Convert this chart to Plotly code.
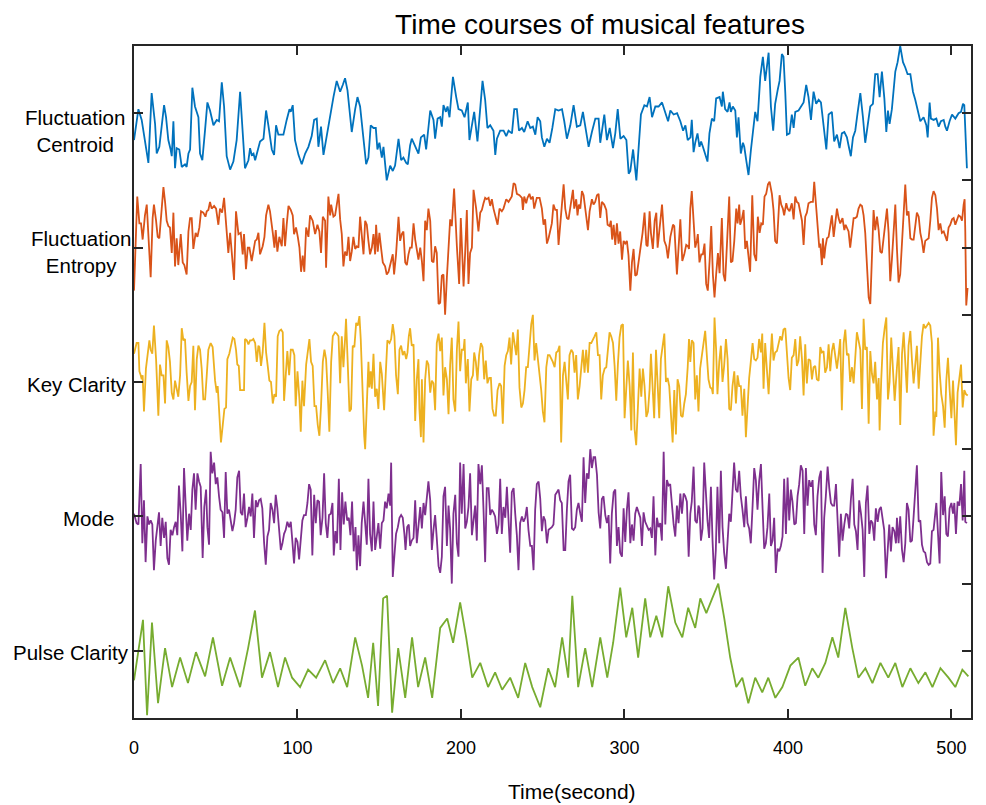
import plotly.graph_objects as go

# ---------------- data (time in s, amplitude in % of lane spacing) ----------------
centroid = [(0,-20),(2.7,3),(4.7,-5),(6.7,-20),(8.8,-37),(10.8,15),(12.9,-8),(13.9,-30),(15.5,-25),(16.9,-10),
(18.4,6),(19.6,-3),(21.0,-20),(22.4,-27),(23.1,-32),(24.1,-6),(25.1,-41),(26.1,-26),(27.7,-27),(29.2,-40),
(31.2,-38),(32.2,-40),(33.3,-30),(34.3,-27),(35.7,19),(37.3,5),(39.4,-3),(40.4,-30),(41.8,-35),(43.5,-12),
(44.9,8),(46.5,2),(48.6,-9),(50.6,-5),(52.0,-6),(53.7,23),(55.1,5),(56.7,-32),(58.8,-42),(60.8,-36),
(62.8,-20),(64.9,16),(66.3,-12),(67.9,-41),(70.0,-35),(71.0,-26),(72.0,-31),(73.1,-30),(74.1,-35),(75.1,-30),
(77.1,-21),(79.2,-19),(80.8,2),(82.2,-9),(84.3,-27),(85.7,-31),(86.9,-9),(88.3,-16),(91.4,-16),(93.4,-5),
(95.1,3),(95.9,1),(97.1,6),(98.5,-20),(100.6,-31),(102.6,-38),(104.7,-30),(106.7,-25),(108.7,-17),(110.2,-5),
(111.8,-4),(112.8,-25),(114.4,-10),(115.9,-31),(117.9,-17),(119.5,-3),(122,12),(124,24),(126.1,16),(127.7,21),
(129.1,26),(130.6,17),(132.2,-5),(133.2,-14),(135.3,3),(136.7,12),(138.3,5),(140.4,-20),(142,-38),(143.4,-33),
(144.8,-9),(146.5,-11),(147.9,-11),(148.9,-27),(150.1,-22),(151.6,-33),(152.6,-25),(154.6,-50),(156.7,-39),(158.3,-43),
(159.7,-39),(161.8,-19),(163.4,-35),(164.8,-33),(166.5,-37),(167.5,-38),(168.9,-24),
(169.9,-19),(172,-25),(174,-30),(175.5,-18),(177.5,-16),(178.7,-27),(181.2,2),(183.2,-5),(184.2,-19),(185.7,-4),
(187.3,-3),(188.3,-10),(189.3,6),(190.8,1),(191.8,5),(193,-3),(195.1,27),(197.1,12),(198.5,3),(200.5,2),
(202.2,-3),(204.2,8),(205.2,-20),(206.7,-9),(208.1,1),(210.1,-21),(213.2,24),(214.8,10),(216.2,-11),(217.9,-9),
(219.9,-13),(221,-31),(222,-19),(224,-13),(226.1,-13),(227.7,-17),(229.1,-13),(231.2,-15),(232.6,3),(234.2,3),
(235.5,-13),(237.3,-11),(238.7,-14),(240.8,-6),(242.4,-11),(244,-10),(245.5,-16),(246.9,-3),(248.5,-6),(249.5,-18),
(251,-25),(252.6,-19),(254.2,-22),(255.9,-11),(257.7,3),(259.7,2),(261.8,3),(263.2,-6),(264.8,-19),(266.9,-9),
(268.9,6),(270.9,-10),(273,-9),(274.6,1),(276,-11),(278.1,-25),(280.1,-14),(282.2,-4),(284.2,-4),(285.2,-22),
(287.7,-1),(289.3,-20),(291,-11),(293,-26),(294.4,-15),(295.9,3),(297.5,-19),(299.5,-17),(301.2,-20),(302.6,-45),
(303.6,-43),(305.3,-27),(307.3,-50),(310.1,-1),(312.2,6),(313.8,5),(315.4,12),(316.9,-3),(318.9,5),(320.9,5),
(323,8),(325,1),(326.7,-6),(328.1,2),(330.1,-1),(332.2,0),(334.2,-6),(335.9,-13),(337.3,-9),(338.7,-20),(340.4,-18),
(341.2,-5),(342.3,-29),(343.3,-22),(344.7,-15),(345.9,-25),(346.9,-21),(348,-25),(349.4,-31),(350.8,-36),(352,-15),
(353.5,-4),(354.9,-6),(356.1,11),(358.2,12),(359.6,5),(360.2,16),(361.6,3),(363.1,1),(364.3,8),(365.1,1),
(366.3,5),(367.8,2),(368.8,-18),(369.8,-3),(371.2,-30),(372.5,-22),(373.3,-25),(374.5,-35),(375.9,-46),(377.4,-27),
(378.6,-13),(380,1),(381.4,-6),(383.1,27),(384.7,42),(386.1,24),(388.2,45),(389.6,5),(391,-13),(392.2,7),
(393.7,17),(394.9,24),(396.3,44),(397.3,42),(398.4,15),(399.4,-16),(401,-15),(402.4,-1),(403.5,-11),(404.5,1),
(406.5,2),(408.6,6),(409.6,8),(411.2,21),(412.6,12),(414.1,-5),(415.7,16),(417.3,7),(418.8,10),(420.2,8),
(421.8,-8),(423.5,-27),(424.9,-1),(426.9,1),(428.3,-21),(430,-16),(431.6,-26),(433,-15),(434.5,-14),(436.1,-18),
(437.1,-24),(438.5,-32),(439.8,-18),(441.2,-13),(442.6,0),(444.3,15),(445.9,-3),(447.3,-22),(448.8,-9),(450.4,5),
(452,7),(453.4,29),(454.9,29),(456.1,12),(457.5,31),(459,11),(460.2,-14),(461.2,2),(462.2,-8),(463.6,3),
(465.7,31),(467.1,38),(468.7,50),(470.4,38),(471.8,34),(473.2,29),(474.9,29),(476.5,16),(477.9,10),(479.4,1),
(481,-6),(483,-3),(484.7,-9),(485.5,-18),(486.7,8),(487.5,-4),(489.1,-5),(490.8,-4),(492.2,-10),(493.6,-6),
(495.3,-5),(496.3,-10),(497.3,-13),(498.9,-6),(500.4,-1),(502.4,-4),(504.4,0),(505.9,1),(507.1,7),(507.9,6),
(508.5,-10),(509.5,-41)]

entropy = [(0,-32),(2.0,38),(3.3,18),(4.3,18),(5.3,6),(6.7,24),(7.8,32),(8.8,5),(10.2,-22),(11.4,22),
(12.2,32),(13.5,20),(14.5,8),(15.5,7),(16.5,24),(18,45),(19,34),(20,20),(21,16),(22,15),
(23.1,-4),(24.1,26),(25.1,-14),(26.1,7),(27.1,-13),(28.6,10),(29.8,-11),(30.8,-13),(32.2,-20),(33.3,12),
(34.3,22),(35.3,22),(36.3,-1),(37.7,11),(38.8,8),(40,15),(41,27),(42.4,26),(43.7,23),(44.5,27),
(45.5,28),(46.5,34),(47.5,29),(49,31),(50.2,29),(51.6,17),(52.6,29),(53.9,26),(55.1,37),(56.3,17),
(57.7,-4),(58.8,11),(59.8,-5),(61.2,-24),(62.4,27),(63.9,10),(65.3,11),(66.5,-5),(67.3,10),(68.5,-16),
(69.6,0),(70.6,0),(72,-10),(73,-1),(74.1,5),(75.1,6),(76.1,11),(77.1,-5),(78.7,1),(79.8,8),
(80.8,24),(82.2,32),(83.2,27),(84.9,11),(85.9,0),(86.7,13),(87.7,-3),(88.9,8),(90.4,1),(91.4,22),
(92.4,1),(93.4,17),(94.5,31),(95.9,28),(97.1,24),(97.9,10),(99.1,15),(100.2,8),(101.2,0),(102.2,-18),
(103.2,-6),(104.2,-18),(105.3,15),(106.7,8),(107.7,24),(109.3,20),(110.8,10),(112.2,17),(113.4,12),(114.4,-4),
(115.5,23),(116.9,20),(117.5,-15),(118.9,38),(120,24),(120.6,32),(122,23),(123,24),(124,31),(125.1,40),
(126.1,21),(127.1,10),(128.1,-14),(129.1,-3),(130.2,-6),(131.2,8),(132.2,-10),(133.2,-3),(134.2,8),(135.3,-1),
(136.3,1),(137.3,0),(138.3,23),(139.3,11),(140.4,-5),(141.4,20),(142.4,17),(143.4,5),(144.4,-5),(145.5,0),
(146.5,10),(147.5,-5),(148.1,17),(149.1,-3),(150.1,11),(151.2,-1),(152.2,-11),(153.6,-14),(154.6,-20),(155.7,-18),
(157.1,-11),(158.3,-5),(159.1,-20),(160.3,-5),(161.8,23),(162.8,5),(163.8,10),(164.8,12),(165.9,-11),(166.9,-13),
(167.9,-5),(168.9,0),
(169.9,0),(171,18),(172,6),(173,-3),(174,-9),(175.1,0),(176.1,-10),(177.1,-25),(178.1,20),(179.1,13),
(180.1,29),(181.2,20),(182.2,-10),(183.2,-11),(184.2,1),(185.2,-4),(186.3,-42),(187.3,-41),(188.3,-21),(189.3,-20),
(190.3,-50),(191.4,-22),(192.4,2),(193.4,21),(194.4,16),(195.8,44),(197.5,1),(198.9,-27),(199.9,22),(201.6,-29),
(202.6,-3),(203.6,28),(204.6,-27),(205.6,-4),(206.7,0),(207.7,43),(209.3,29),(210.7,12),(211.8,26),(212.8,28),
(213.8,33),(214.8,37),(215.8,36),(216.9,37),(217.9,31),(218.9,36),(219.9,29),(221.6,20),(222.4,17),(223.6,29),
(225,27),(226,29),(227.7,36),(229.1,34),(230.1,36),(231.1,38),(232.2,48),(233.2,47),(234.2,40),(235.8,39),
(237.3,37),(237.9,28),(238.7,38),(239.9,33),(240.7,37),(241.9,40),(242.8,36),(244,38),(244.8,29),(246.4,37),
(248.1,37),(249.5,29),(250.5,17),(251.5,21),(252.6,3),(253.6,7),(255.6,18),(256.6,32),(257.7,28),(258.7,28),
(259.7,2),(260.7,15),(261.7,27),(262.8,47),(263.8,29),(264.8,22),(265.8,21),(266.8,29),(268.5,43),(269.3,29),
(270.5,36),(271.3,24),(272.1,32),(273,29),(274,42),(275,39),(276,29),(277.1,21),(277.7,13),(278.7,27),
(280.1,36),(281.1,32),(282.1,34),(283.2,39),(284.2,40),(285.2,22),(286.2,34),(287.6,32),(288.9,28),(289.7,17),
(290.9,16),(291.7,20),(292.5,6),(293.4,17),(294.4,2),(295.4,18),(296.4,3),(297.4,12),(298.5,-9),(299.5,5),
(300.5,3),(301.5,5),(302.5,-6),(303.6,-32),(304.6,-11),(305.6,-1),(306.6,-21),(307.6,-20),(309.7,-3),(311.1,11),
(312.3,26),(313.4,2),(314.2,1),(315.4,27),(316.2,11),(317.4,-1),(318.5,20),(319.5,26),(320.3,0),(321.5,13),
(323,32),(324.4,5),(325.6,1),(326.6,-8),(328.1,8),(329.7,17),(330.5,16),(332.1,-20),(333.1,-4),(334.2,21),
(335.4,-10),(336.6,-5),(337.8,2),(338.9,1),(339.5,-1),(340.3,29),
(341.2,42),(342.3,17),(343.3,0),(344.3,5),(344.9,10),(345.9,-11),(347,-5),(348,-5),(349,3),(350,-27),
(351.0,-32),(352.1,-10),(353.1,16),(354.1,-20),(355.1,-37),(356.1,-20),(357.2,-4),(358.2,-19),(359.6,22),(360.6,-20),
(361.6,-25),(362.7,2),(364.1,38),(365.1,-11),(366.1,-10),(367.2,5),(368.4,29),(369.2,18),(370.2,32),(370.8,17),
(371.8,21),(372.9,28),(373.9,-1),(374.9,5),(375.9,-5),(376.9,-18),(378.2,39),(379.4,-5),(380.6,-10),(381.6,23),
(382.7,11),(383.7,18),(384.7,17),(385.7,38),(386.7,40),(387.8,47),(388.8,49),(390.2,40),(391.2,28),(392.2,5),
(393.3,3),(394.3,22),(394.9,39),(395.9,32),(396.9,29),(397.7,24),(399,33),(399.8,29),(401,27),(402.4,33),
(403.5,21),(404.5,38),(405.5,34),(406.5,33),(407.5,27),(408.6,20),(409.6,2),(410.6,23),(411.6,26),(412.6,33),
(414.1,34),(415.3,34),(416.1,49),(417.1,33),(418.2,10),(419.2,0),(419.8,3),(420.8,-13),(421.4,7),(422.2,-8),
(423.0,1),(423.9,7),(424.9,8),(425.9,17),(426.9,24),(428,8),(429,21),(430,29),(431,22),(432,18),
(433.4,22),(434.5,13),(435.3,17),(436.1,15),(437.1,12),(438.1,0),(439.2,10),(440.2,22),(441.2,22),(442.2,23),
(443.2,29),(444.3,32),(445.3,31),(446.3,24),(447.3,11),(448.3,-13),(449.4,-37),(450.4,-42),(451.4,-10),(452.4,28),
(453.4,13),(454.5,23),(455.5,13),(456.5,-3),(457.5,-4),(458.5,8),(459.6,22),(460.6,29),(461.6,11),(462.6,-25),
(463.6,-9),(464.7,18),(465.7,32),(466.7,-1),(467.7,-26),(468.7,-20),(469.8,5),(470.8,27),(471.8,47),(472.8,24),
(473.8,27),(474.9,7),(475.9,6),(476.9,6),(477.9,15),(478.9,26),(480,23),(481,11),(482,5),(483,-4),
(484,5),(485.1,6),(486.1,7),(487.1,20),(488.1,37),(489.1,42),(490.2,39),(491.2,29),(492.2,13),(493.2,18),
(494.2,11),(495.3,12),(496.3,8),(497.3,5),(498.3,15),(499.3,17),(500.4,21),(501.4,22),(502.4,17),(503.4,21),
(504.4,24),(505.5,23),(506.5,20),(507.5,32),(508.1,36),(508.5,12),(509.1,-43),(509.9,-30)]

key_clarity = [(0,21),(1.6,29),(2.7,29),(3.3,8),(4.1,5),(4.7,2),(5.3,5),(6.1,-22),(7.3,10),(8.2,20),
(9.4,31),(10.2,24),(11.2,21),(12.2,42),(13.5,17),(14.9,-25),(15.9,13),(16.9,5),(18,5),(19,-16),
(20,31),(21,26),(22,15),(23.1,-8),(24.1,-13),(25.1,1),(26.1,-5),(27.1,-11),(28.2,5),(29.2,40),
(30.2,31),(31.2,32),(32.2,7),(33.3,-14),(34.3,-3),(35.3,0),(36.3,27),(37.3,-21),(38.4,17),(39.4,27),
(40.4,24),(41.4,10),(42.4,-13),(43.5,-13),(44.5,5),(45.5,24),(46.9,29),(48.1,26),(49.6,1),(50.6,-8),
(51.2,-3),(52.2,-27),(53.2,-45),(54.3,-32),(55.3,-20),(56.3,-19),(57.1,17),(58.3,21),(59.4,29),(60.4,33),
(61.4,32),(62.4,24),(63.2,13),(64.1,12),(64.9,-6),(66.1,-6),(67.3,-6),(67.9,32),(69,31),(70,28),
(71,31),(72,31),(73,32),(74.1,29),(75.1,15),(76.1,27),(76.7,26),(77.7,12),(78.7,22),(79.8,44),
(80.8,22),(81.8,12),(82.8,1),(83.8,0),(84.9,-16),(85.9,-9),(86.9,-11),(87.9,34),(88.9,38),(90,39),
(91,37),(91.8,-14),(92.8,5),(93.8,23),(94.9,5),(95.9,24),(97.1,24),(98.1,20),(98.9,-18),(100,8),
(101.2,-13),(102,-37),(103,1),(104,-18),(105.3,13),(106.3,22),(107.3,32),(108.3,15),(109.3,12),(110.4,-18),
(111.4,-18),(112.4,-32),(113.4,-40),(114.4,-18),(115.5,15),(116.5,24),(117.5,17),(118.5,-8),(119.5,-37),(120.6,15),
(121.6,34),(123,37),(124,36),(125.1,34),(126.1,-1),(127.1,34),(128.1,11),(129.1,32),(129.7,47),(130.8,12),
(131.8,-22),(132.8,-20),(133.8,27),(134.8,26),(135.9,44),(136.9,42),(137.9,49),(138.7,32),(139.7,-5),(140.8,-40),
(141.4,-50),(142.4,-10),(143.4,15),(144,-4),(144.8,8),(145.5,-5),(146.5,21),(147.5,-11),(148.5,-5),(149.5,-20),
(150.6,15),(151.6,6),(153,-21),(154,6),(155,31),(156.3,29),(157.3,32),(158.3,43),(159.3,34),(160.3,5),
(161.4,-9),(162.4,24),(163.4,27),(164.4,20),(165.4,23),(166.5,17),(167.3,22),(168.1,34),(168.9,40),
(169.9,27),(171,28),(172,-29),(173,2),(174,17),(174.6,-20),(175.5,-41),(176.1,2),(177.1,-45),(178.1,2),
(179.1,16),(180.1,13),(181.2,-8),(182.2,1),(183.2,-1),(184.2,-21),(185.2,29),(186.3,36),(187.3,23),(188.3,33),
(189.3,-10),(190.3,11),(191.4,2),(192.4,-24),(193.4,13),(194.4,33),(195.4,-13),(196.5,-22),(197.5,24),(198.5,45),
(199.5,8),(200.5,24),(201.6,24),(202.2,32),(203,-1),(204.2,17),(205.2,-22),(206.3,2),(207.3,5),(208.1,22),
(209.1,15),(210.1,1),(211.1,20),(212.2,29),(213.2,26),(214.2,2),(215.2,16),(216.2,-1),(217.3,3),(218.3,3),
(219.3,-20),(220.3,-25),(221.3,-25),(222.4,-6),(223.6,-1),(224.6,-3),(225.6,-31),(226.7,12),(227.7,20),(228.7,23),
(229.7,33),(230.7,13),(231.8,37),(232.8,28),(233.8,20),(234.8,39),(235.8,-4),(236.9,-19),(237.9,-16),(238.9,-6),
(239.9,11),(240.9,11),(242,29),(243,43),(244,50),(245,16),(246,29),(247.1,17),(248.1,2),(249.1,-6),
(250.1,-22),(251.1,-30),(252.2,11),(253.2,20),(254.2,20),(255.2,18),(256.2,15),(257.3,11),(258.3,22),(259.3,23),
(260.3,27),(261.3,-45),(262.4,5),(263.4,15),(264.4,0),(265.4,-13),(266.4,20),(267.5,24),(268.5,22),(269.5,7),
(270.5,20),(271.5,-13),(272.6,-3),(273.6,13),(274.6,24),(275.6,7),(276.6,24),(277.7,7),(278.7,29),(279.7,29),
(280.7,31),(281.7,34),(282.8,37),(283.8,20),(284.8,20),(285.8,-13),(286.8,5),(287.9,10),(288.9,11),(289.9,23),
(290.9,37),(291.9,34),(293,29),(294,12),(295,-14),(296,13),(297,33),(298.1,42),(299.1,43),(300.1,-27),
(301.1,-1),(302.1,16),(303.2,-3),(304.2,-36),(305.2,22),(306.2,-35),(307.2,-47),(308.3,-18),(309.3,10),(310.3,-11),
(311.3,10),(312.3,-3),(313.4,-26),(314.4,-22),(315.4,-5),(316.2,21),(317.2,-6),(318.2,-27),(319.3,24),(320.3,-8),
(321.3,-27),(322.3,17),(323.3,28),(324.4,36),(325.4,0),(326.4,3),(327.4,-3),(328.4,-21),(329.5,-45),(330.5,-6),
(331.5,-39),(332.5,2),(333.5,-3),(334.6,-25),(335.6,-26),(336.6,-16),(337.6,-9),(338.7,11),(339.5,32),(340.3,15),
(341.2,31),(342.3,29),(343.3,-13),(344.3,5),(345.3,-22),(346.3,10),(347.4,20),(348.4,29),(349.4,38),(350.4,20),
(351.4,2),(352.5,-4),(353.5,-5),(354.1,-9),(355.1,48),(356.1,24),(356.9,-9),(358,15),(359,27),(360,0),
(361,12),(362.1,32),(363.1,17),(364.1,-20),(365.1,-21),(366.1,-3),(367.2,8),(368.2,-16),(369.2,5),(370.2,-3),
(371.2,-3),(372.2,-25),(373.3,-5),(374.3,-41),(375.3,-16),(376.3,3),(377.3,15),(378.4,29),(379.4,17),(380.4,16),
(381.4,18),(382.4,32),(383.5,22),(384.3,36),(385.1,-5),(386.1,29),(387.1,10),(388.2,-9),(389.2,15),(390.2,36),
(391.2,16),(392.2,22),(393.3,23),(394.3,29),(395.3,34),(396.3,31),(397.3,39),(398.4,40),(399.4,17),(400.4,3),
(401.4,-6),(402.4,18),(403.5,20),(404.5,32),(405.5,12),(406.5,16),(407.5,34),(408.6,17),(409.6,-10),(410.6,28),
(411.6,-1),(412.6,17),(413.7,16),(414.7,2),(415.7,11),(416.7,12),(417.7,2),(418.8,1),(419.8,26),(420.8,22),
(421.8,23),(422.8,7),(423.9,11),(424.9,28),(425.9,8),(426.9,23),(427.9,29),(429,17),(430,10),(431,20),
(432,32),(433,-21),(434.1,29),(435.1,39),(436.1,20),(437.1,21),(438.1,0),(439.2,11),(440.2,-1),(441.2,18),
(442.2,37),(443.2,31),(444.3,24),(445.3,-20),(446.3,47),(447.3,24),(448.3,26),(449.4,-31),(450.4,23),(451.4,6),
(452.4,-1),(453.4,15),(454.5,-13),(455.5,3),(456.1,-36),(457.1,2),(458.1,29),(459.2,40),(460.2,48),(461.2,-13),
(462.2,0),(463.2,33),(464.3,5),(465.3,-14),(466.7,11),(467.7,26),(468.7,-32),(469.8,21),(470.8,37),(471.8,17),
(472.8,-8),(473.8,27),(474.9,38),(475.9,16),(476.9,-1),(477.9,13),(478.9,27),(480,-5),(481,20),(482,34),
(483,43),(484,40),(485.1,42),(486.1,44),(487.1,42),(488.1,29),(489.1,-40),(490.2,-22),(490.8,-26),(491.8,33),
(492.8,8),(493.8,-9),(494.9,-18),(495.9,-34),(496.9,1),(497.9,18),(498.9,-5),(500,-27),(501,1),(501.8,-22),
(502.8,-47),(503.8,-8),(504.9,2),(505.9,13),(506.9,-19),(507.9,-6),(508.9,-9),(510,-10)]

mode = [(0,2),(1.6,-5),(2.7,-6),(4.1,39),(5.1,-20),(6.1,12),(7.1,-34),(8.2,0),(9.2,-6),(10.2,-3),
(11.2,-6),(12.2,-40),(13.3,-18),(14.3,-5),(15.3,3),(16.3,-22),(17.3,-1),(18.4,-16),(19.4,-4),(20.4,-31),
(21.4,-36),(22.4,-10),(23.5,-14),(24.5,-8),(25.5,-4),(26.5,-14),(27.5,23),(28.6,1),(29.6,-26),(30.6,36),
(31.6,5),(32.6,-18),(33.7,2),(34.7,-10),(35.7,20),(36.7,32),(37.7,5),(38.8,32),(39.8,26),(40.8,22),
(42,-31),(43,7),(44.1,20),(44.9,-8),(45.9,-21),(46.9,48),(47.9,32),(49,40),(50,24),(51,29),
(52,15),(53,5),(54.1,3),(55.1,-16),(56.1,33),(57.1,2),(58.1,5),(59.2,-4),(60.2,-11),(61.2,-5),
(62.2,5),(63.2,29),(64.3,34),(65.3,3),(66.3,1),(67.3,17),(68.3,-8),(69.4,-1),(70.4,7),(71.4,0),
(72.4,17),(73.4,-16),(74.5,12),(75.5,7),(76.5,12),(77.5,13),(78.5,6),(79.6,-20),(80.6,-36),(81.6,-15),
(82.6,-10),(83.6,10),(84.7,5),(85.7,-5),(86.7,16),(87.7,6),(88.7,-9),(89.8,-25),(90.8,-20),(91.8,-13),
(92.8,-10),(93.8,-4),(94.9,-8),(95.9,-4),(96.9,-19),(97.9,-35),(98.9,-16),(100,-19),(101,-32),(102,-14),
(103,-3),(104,1),(105.1,1),(106.1,10),(107.1,24),(108.1,20),(109.1,-29),(110.2,16),(111.2,-5),(112.2,12),
(113.2,11),(114.2,-14),(115.3,-1),(116.3,32),(117.3,-5),(118.3,-16),(119.3,1),(120.4,2),(121.4,10),(122.2,-29),
(123.2,-11),(124.2,-20),(125.3,28),(126.3,-25),(127.3,18),(128.3,-6),(129.3,11),(130.4,-3),(131.4,-1),(132.4,-14),
(133.4,11),(134.4,-26),(135.5,-8),(136.3,-40),(137.3,-14),(138.3,-37),(139.3,-5),(140.4,11),(141.4,-3),(142.4,-21),
(143.4,28),(144.4,-13),(145.5,-26),(146.5,11),(147.5,-25),(148.5,-14),(149.5,-5),(150.6,-24),(151.6,-5),(152.6,-3),
(153.6,11),(154.6,6),(155.7,17),(156.7,8),(157.3,40),(158.3,-45),(159.3,-30),(160.3,-13),(161.4,-8),(162.4,-1),
(163.4,1),(164.4,-1),(165.4,-13),(166.1,-25),(167.1,-8),(168.1,-6),(168.9,-22),
(169.9,-18),(171,-16),(172,12),(173,-20),(174,-6),(175.1,7),(176.1,-9),(177.1,10),(178.1,1),(179.1,12),
(180.1,26),(181.2,12),(182.2,-25),(183.2,-10),(184.2,1),(185.2,-16),(186.3,-37),(187.3,-42),(188.3,-30),(189.3,15),
(190.3,22),(191.4,-22),(192.4,8),(193.4,-10),(194.4,-50),(195.4,2),(196.5,16),(197.5,-20),(198.5,-30),(199.5,40),
(200.5,2),(201.6,39),(202.6,-9),(203.6,-4),(204.6,7),(205.6,32),(206.7,-14),(207.7,-3),(208.7,8),(209.7,-18),
(210.7,39),(211.8,24),(212.8,38),(213.8,5),(214.8,-34),(215.8,21),(216.9,21),(217.9,1),(218.9,5),(219.9,3),
(220.9,0),(222,-13),(223,-6),(224,28),(225,-13),(226,7),(227.1,-1),(228.1,22),(229.1,-5),(230.1,-27),
(231.1,18),(232.2,21),(233.2,2),(234.2,-14),(235.2,-40),(236.2,-5),(237.3,0),(238.3,-4),(239.3,-1),(240.3,7),
(241.3,-10),(242.4,-22),(243.4,-22),(244.4,-40),(245.4,5),(246.4,24),(247.5,26),(248.5,13),(249.5,-11),(250.5,0),
(251.5,-3),(252.6,-20),(253.6,-10),(254.6,-9),(255.6,-8),(256.6,-6),(257.7,16),(258.7,18),(259.7,20),(260.7,12),
(261.7,10),(262.8,-25),(263.8,-25),(264.8,5),(265.8,26),(266.8,31),(267.9,-9),(268.9,-10),(269.9,-8),(270.9,5),
(271.9,10),(273,2),(274,-4),(275,44),(276,10),(277,32),(278.1,28),(279.1,50),(280.1,36),(281.1,44),
(282.1,44),(283.2,31),(284.2,3),(285.2,-9),(286.2,13),(287.2,15),(288.3,1),(289.3,-5),(290.3,1),(291.3,-35),
(292.3,2),(293.4,18),(294.4,20),(295.4,-22),(296.4,-8),(297.4,-27),(298.5,-30),(299.5,6),(300.5,-19),(301.5,5),
(302.5,18),(303.6,-20),(304.6,-6),(305.6,-18),(306.6,2),(307.6,7),(308.7,3),(309.7,-1),(310.7,-22),(311.7,3),
(312.7,-4),(313.8,-8),(314.8,-10),(315.8,-9),(316.8,-16),(317.8,15),(318.9,-29),(319.9,-1),(320.9,-8),(321.9,-5),
(322.9,-18),(324,48),(325,-6),(326,27),(327,23),(328,24),(329.1,6),(330.1,-6),(331.1,-15),(332.1,8),
(333.1,-5),(334.2,17),(335.2,2),(336.2,17),(337.2,15),(338.2,11),(339.3,-30),(340.3,2),
(341.2,11),(342.3,37),(343.3,-3),(344.3,-5),(345.3,8),(345.9,6),(346.8,-18),(347.8,-9),(348.8,40),(349.8,13),
(350.8,-3),(351.8,-16),(352.9,22),(353.9,-18),(354.9,-47),(355.9,-25),(356.9,22),(358,-20),(359,34),(360,-8),
(361,-27),(362.1,-39),(363.1,-18),(364.1,2),(365.1,-4),(366.1,22),(367.1,40),(368.2,20),(369.2,18),(370.2,34),
(371.2,15),(372.2,5),(373.3,-8),(374.3,15),(375.3,-5),(376.3,-9),(377.3,-20),(378.4,8),(379.4,36),(380.4,27),
(381.4,5),(382.4,26),(383.5,39),(384.5,6),(385.5,-24),(386.5,-20),(387.5,-8),(388.6,17),(389.6,-22),(390.6,-18),
(391.6,-1),(392.6,-42),(393.7,-24),(394.7,-26),(395.7,-22),(396.7,-15),(397.7,28),(398.8,-13),(399.8,29),(400.8,-3),
(401.8,20),(402.8,11),(403.9,-6),(404.9,-5),(405.9,15),(406.9,24),(407.9,38),(409,34),(410,-13),(411,36),
(412,8),(413,27),(414.1,22),(415.1,27),(416.1,-6),(417.1,-14),(418.1,15),(419.2,29),(420.2,34),(421.2,-42),
(422.2,-1),(423.2,15),(424.3,37),(425.3,21),(426.3,10),(427.3,8),(428.3,8),(429.4,24),(430.4,0),(431.4,-30),
(432.4,2),(433.4,-18),(434.5,-6),(435.5,2),(436.5,1),(437.5,-9),(438.5,12),(439.6,28),(440.6,-6),(441.6,-11),
(442.6,-25),(443.6,12),(444.7,2),(445.7,-10),(446.7,-45),(447.7,10),(448.7,23),(449.8,-13),(450.8,-3),(451.8,-5),
(452.8,-18),(453.8,6),(454.9,-4),(455.9,5),(456.9,7),(457.9,0),(458.9,-10),(460,-46),(461,-20),(462,-6),
(463,-26),(464,-8),(465.1,-11),(466.1,-20),(466.7,-1),(467.7,-20),(468.7,0),(469.8,-25),(470.8,-34),(471.8,-20),
(472.8,10),(473.8,5),(474.9,-19),(475.9,-18),(476.9,0),(477.9,24),(478.9,38),(480,-4),(481,-3),(482,-21),
(483,-26),(484,-27),(485.1,-34),(486.1,-36),(487.1,-35),(488.1,-11),(489.1,-10),(490.8,10),(491.8,-9),(492.8,-35),
(493.8,33),(494.9,1),(495.9,15),(496.9,-13),(497.9,-15),(498.9,6),(500,10),(501,2),(501.8,10),(502.8,-13),
(503.8,11),(504.9,8),(505.9,24),(506.9,-3),(507.9,34),(508.5,-4),(509.5,-5)]

pulse_clarity = [(0,-22),(5.5,23),(8,-48),(11,21),(14.7,-39),(19,2),(23.3,-27),(28.2,-5),(33,-24),(37.9,-1),
(43.5,-19),(48.3,10),(53.9,-26),(58.8,-5),(64.9,-27),(69.8,2),(74,30),(78.3,-20),(83.2,-1),(88.1,-27),
(92.4,-5),(96.7,-20),(101.6,-27),(106.5,-14),(111.4,-20),(116.9,-7),(121.8,-24),(126.1,-13),(130.4,-27),(135.3,10),
(139.5,-11),(143.2,-35),(146.3,6),(149.3,-41),(152.4,39),(154.8,41),(157.9,-46),(161.6,2),(165.9,-35),(170.1,10),
(173.8,-27),(178.1,-5),(182.4,-35),(187.3,17),(191.6,24),(195.2,6),(199.5,36),(203.2,10),(206.9,-20),(211.8,-9),
(216.6,-27),(220.9,-16),(225.2,-29),(230.1,-20),(235,-35),(239.3,-9),(243.6,-27),(248.5,-42),(253.4,-13),(257.6,-27),
(261.9,10),(265.6,-20),(268.1,41),(271.7,-27),(276,2),(280.3,-27),(285.2,10),(289.5,-20),(293.1,6),(297.4,47),
(301.1,10),(304.8,32),(308.4,-5),(312.7,39),(315.8,10),(319.5,26),(323.1,10),(326.8,48),(331.1,21),(335.4,10),
(339,32),(343.3,17),(346.4,39),(350.1,28),(353.7,39),(357.4,50),(361.1,24),(364.7,-5),(368.4,-27),(372.1,-20),
(375.8,-39),(380,-20),(384.3,-31),(388,-20),(392.3,-35),(396.6,-27),(401.5,-11),(406.4,-5),(410.6,-26),(414.9,-13),
(418.6,-20),(422.9,-9),(427.2,10),(430.8,-5),(435.1,32),(439.4,2),(443.1,-20),(447.4,-13),(451.7,-24),(456.6,-9),
(461.4,-20),(465.7,-9),(470,-27),(474.9,-13),(479.8,-24),(484.1,-16),(488.4,-27),(493.3,-13),(498.2,-20),(502.4,-27),
(506.7,-14),(510.4,-19)]

labels = ["Fluctuation<br>Centroid", "Fluctuation<br>Entropy", "Key Clarity", "Mode", "Pulse Clarity"]
offsets = [5, 4, 3, 2, 1]
colors = ["#0072BD", "#D95319", "#EDB120", "#7E2F8E", "#77AC30"]
x_ticks = [0, 100, 200, 300, 400, 500]

series = [centroid, entropy, key_clarity, mode, pulse_clarity]

fig = go.Figure()
for data, off, col, lab in zip(series, offsets, colors, labels):
    t = [p[0] for p in data]
    y = [off + p[1] / 100.0 for p in data]
    fig.add_trace(go.Scatter(x=t, y=y, mode="lines", name=lab.replace("<br>", " "),
                             line=dict(color=col, width=1.8), showlegend=False))

# invisible trace for the right-hand mirrored axis
fig.add_trace(go.Scatter(x=[None], y=[None], yaxis="y2", showlegend=False, hoverinfo="skip"))

FONT = "Liberation Sans, Arial, sans-serif"
AX = "#262626"

# the page has an 8px body margin -> figure sized to fit the window
FW, FH = 978, 797
L, R, T, B = 126, 963, 38, 710
PW, PH = R - L, B - T

label_pos = [(75, 4.87), (81, 3.97), (77, 2.985), (88, 1.985), (71, 0.985)]
annotations = []
for lab, (px, yv) in zip(labels, label_pos):
    annotations.append(dict(text=lab, xref="paper", yref="y", x=(px - 8 - L) / PW, y=yv,
                            xanchor="center", yanchor="middle", showarrow=False, align="center",
                            font=dict(family=FONT, size=20.5, color="black")))
annotations.append(dict(text="Time(second)", xref="paper", yref="paper", x=(572 - 8 - L) / PW,
                        y=(B - (791 - 8)) / PH, xanchor="center", yanchor="middle", showarrow=False,
                        font=dict(family=FONT, size=21, color="black")))

fig.update_layout(
    width=FW, height=FH,
    margin=dict(l=L, r=FW - R, t=T, b=FH - B),
    paper_bgcolor="white", plot_bgcolor="white",
    font=dict(family=FONT, color="black"),
    title=dict(text="Time courses of musical features", x=(600 - 8) / FW, xanchor="center",
               y=1 - (24 - 8) / FH, yanchor="middle", font=dict(family=FONT, size=28, color="black")),
    xaxis=dict(range=[0, 512], tickvals=x_ticks, ticks="inside", ticklen=9, tickwidth=1.5, tickcolor=AX,
               showline=True, linecolor=AX, linewidth=1.5, mirror="ticks", showgrid=False, zeroline=False,
               tickfont=dict(family=FONT, size=18, color="black"), ticklabelstandoff=13),
    yaxis=dict(range=[0.5, 5.5], tickvals=offsets, showticklabels=False, ticks="inside", ticklen=9,
               tickwidth=1.5, tickcolor=AX, showline=True, linecolor=AX, linewidth=1.5,
               showgrid=False, zeroline=False),
    yaxis2=dict(range=[0.5, 5.5], overlaying="y", side="right",
                tickvals=[1, 1.5, 2, 2.5, 3, 3.5, 4, 4.5, 5], showticklabels=False, ticks="inside",
                ticklen=9, tickwidth=1.5, tickcolor=AX, showline=True, linecolor=AX, linewidth=1.5,
                showgrid=False, zeroline=False),
    annotations=annotations,
)

fig.write_html("out.html")
